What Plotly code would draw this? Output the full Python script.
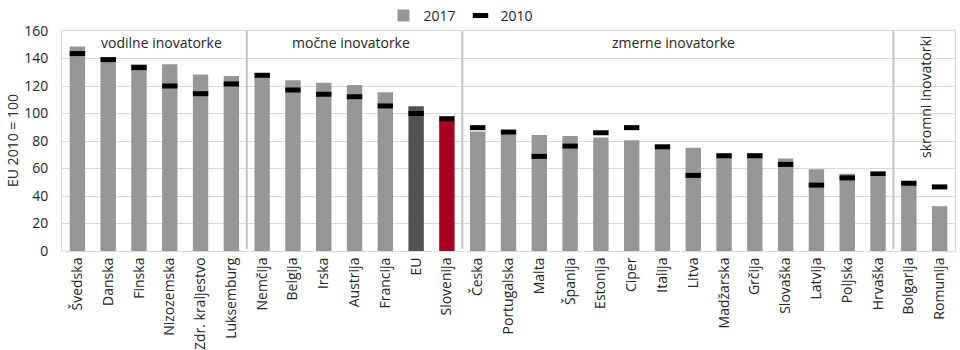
import plotly.graph_objects as go

# Summary innovation index, EU 2010 = 100
countries = [
    "Švedska", "Danska", "Finska", "Nizozemska", "Zdr. kraljestvo", "Luksemburg",
    "Nemčija", "Belgija", "Irska", "Austrija", "Francija", "EU", "Slovenija",
    "Česka", "Portugalska", "Malta", "Španija", "Estonija", "Ciper", "Italija",
    "Litva", "Madžarska", "Grčija", "Slovaška", "Latvija", "Poljska", "Hrvaška",
    "Bolgarija", "Romunija",
]
values_2017 = [
    148.7, 140.5, 135.8, 135.8, 128.3, 127.3,
    127.0, 124.2, 122.3, 120.8, 115.4, 105.2, 95.0,
    87.0, 85.0, 84.3, 83.6, 82.6, 80.5, 74.5,
    75.1, 68.0, 68.0, 67.3, 59.5, 56.1, 54.0,
    48.0, 32.6,
]
values_2010 = [
    143.6, 139.2, 133.4, 120.0, 114.4, 121.5,
    127.8, 117.1, 114.0, 112.2, 105.5, 100.0, 96.2,
    89.7, 86.5, 68.8, 76.3, 86.0, 89.7, 75.8,
    55.0, 69.3, 69.3, 63.0, 47.9, 53.2, 56.1,
    49.3, 46.6,
]
groups = ["vodilne inovatorke", "močne inovatorke", "zmerne inovatorke", "skromni inovatorki"]
group_sizes = [6, 7, 14, 2]
series_names = ["2017", "2010"]
y_title = "EU 2010 = 100"
y_ticks = [0, 20, 40, 60, 80, 100, 120, 140, 160]

FONT = "Open Sans, Noto Sans, sans-serif"
TEXT = "#262626"
GREY = "#969696"
bar_colors = []
for c in countries:
    if c == "EU":
        bar_colors.append("#525252")
    elif c == "Slovenija":
        bar_colors.append("#A50021")
    else:
        bar_colors.append(GREY)

fig = go.Figure()
fig.add_trace(go.Bar(
    x=countries, y=values_2017, name=series_names[0],
    marker=dict(color=bar_colors, line=dict(width=0)),
))
fig.add_trace(go.Scatter(
    x=countries, y=values_2010, name=series_names[1], mode="markers",
    marker=dict(symbol="line-ew", size=11, color="black",
                line=dict(color="black", width=5)),
))

# group separators and labels
label_shift = [7, -4, -4, 2]
shapes = []
annotations = []
start = 0
for i, (g, n) in enumerate(zip(groups, group_sizes)):
    end = start + n
    if i < len(groups) - 1:
        shapes.append(dict(type="line", xref="x", yref="y",
                           x0=end - 0.5, x1=end - 0.5, y0=1.5, y1=161.5,
                           line=dict(color="#c4c4c4", width=2)))
    center = (start + end - 1) / 2
    if g == "skromni inovatorki":
        annotations.append(dict(x=center, y=158, xref="x", yref="y", text=g,
                                showarrow=False, textangle=-90, yanchor="top",
                                xshift=label_shift[i],
                                font=dict(family=FONT, size=14, color=TEXT)))
    else:
        annotations.append(dict(x=center, y=151.5, xref="x", yref="y", text=g,
                                showarrow=False, yanchor="middle",
                                xshift=label_shift[i],
                                font=dict(family=FONT, size=14, color=TEXT)))
    start = end

# y-axis title
annotations.append(dict(x=-50 / 893, y=0.5, xref="paper", yref="paper", text=y_title,
                        showarrow=False, textangle=-90, xanchor="center", yanchor="middle",
                        font=dict(family=FONT, size=14, color=TEXT)))

fig.update_layout(
    width=960, height=350,
    margin=dict(l=62, r=5, t=31, b=99, autoexpand=False),
    plot_bgcolor="white", paper_bgcolor="white",
    bargap=0.5,
    font=dict(family=FONT, size=13, color=TEXT),
    showlegend=True,
    legend=dict(orientation="h", x=0.36, xanchor="left",
                yref="container", y=1.0, yanchor="top",
                font=dict(size=14, color=TEXT), itemwidth=30,
                bgcolor="rgba(0,0,0,0)", traceorder="normal"),
    shapes=shapes,
    annotations=annotations,
)
fig.update_xaxes(
    range=[-0.5, len(countries) - 0.5],
    tickangle=-90, showgrid=False, showline=True, linecolor="#d9d9d9", linewidth=1,
    mirror=True, ticks="", tickfont=dict(size=14, color=TEXT), automargin=False,
)
fig.update_yaxes(
    range=[0, 160], tickvals=y_ticks, showgrid=True, gridcolor="#d9d9d9", gridwidth=1,
    showline=True, linecolor="#d9d9d9", linewidth=1, mirror=True, ticks="",
    zeroline=False, ticklabelstandoff=10, automargin=False,
    tickfont=dict(size=14, color=TEXT),
)

fig.write_html("out.html")
